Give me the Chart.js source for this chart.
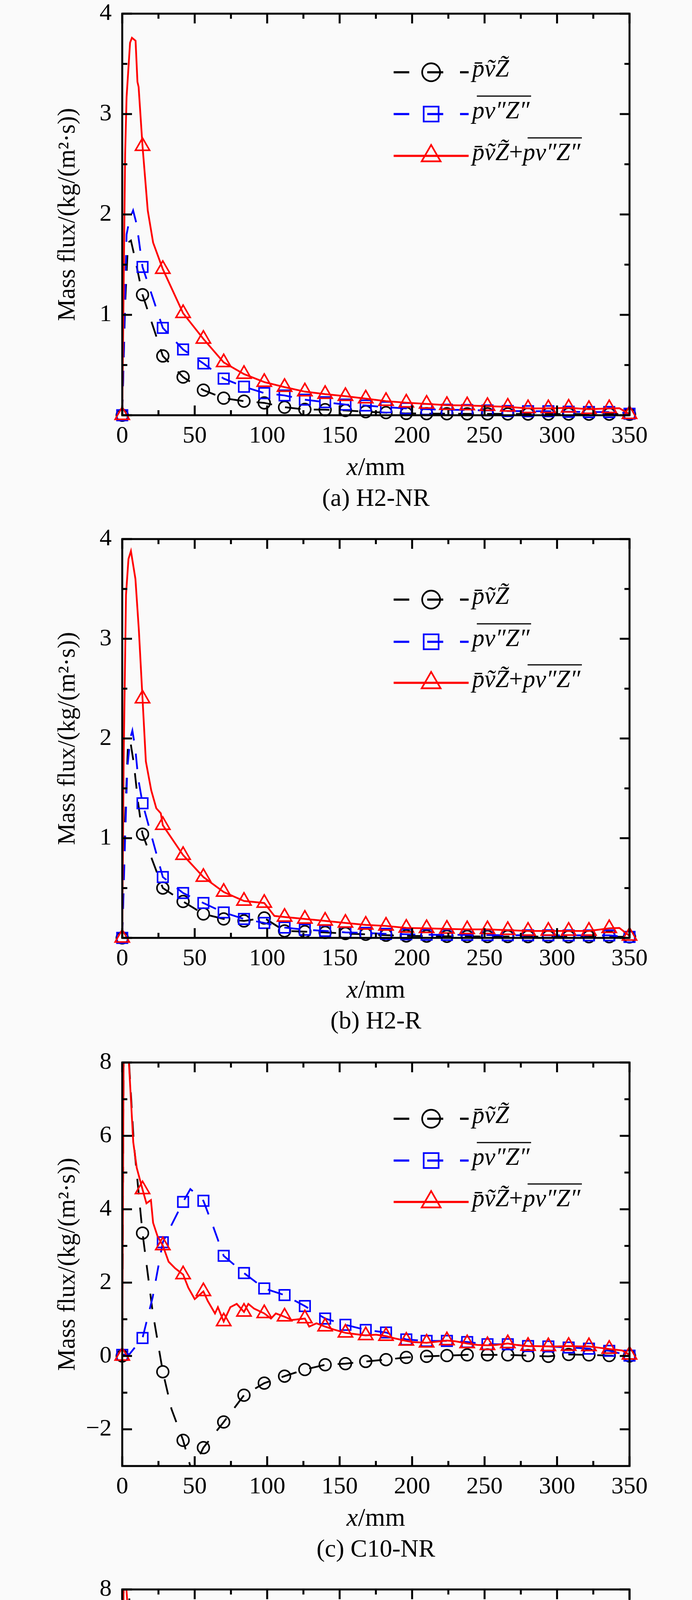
<!DOCTYPE html>
<html>
<head>
<meta charset="utf-8">
<script src="https://cdn.jsdelivr.net/npm/chart.js@4.4.1/dist/chart.umd.min.js"></script>
<style>
  body { margin: 0; background: #fafafa; }
  #wrap { position: relative; width: 1772px; height: 5352px; }
  #wrap canvas { position: absolute; left: 0; }
</style>
</head>
<body>
<div id="wrap">
  <canvas id="cA" width="1772" height="1318" style="top:0px"></canvas>
  <canvas id="cB" width="1772" height="1318" style="top:1345px"></canvas>
  <canvas id="cC" width="1772" height="1318" style="top:2685px"></canvas>
  <canvas id="cD" width="1772" height="1318" style="top:4034px"></canvas>
</div>
<script>
const FONT = '"Liberation Serif", "Times New Roman", serif';

// marker positions (mm) and axis ticks
const markX = [0, 14, 28, 42, 56, 70, 84, 98, 112, 126, 140, 154, 168, 182, 196, 210, 224, 238, 252, 266, 280, 294, 308, 322, 336, 350];
const xTicks = [0, 50, 100, 150, 200, 250, 300, 350];
const abYTicks = [0, 1, 2, 3, 4];
const cdYTicks = [-2, 0, 2, 4, 6, 8];

// (a) H2-NR
const aBlack = [0, 1.20, 0.59, 0.38, 0.25, 0.17, 0.14, 0.123, 0.08, 0.058, 0.055, 0.048, 0.035, 0.026, 0.018, 0.016, 0.015, 0.014, 0.014, 0.013, 0.012, 0.012, 0.012, 0.011, 0.011, 0.01];
const aBlue  = [0, 1.477, 0.87, 0.655, 0.516, 0.365, 0.284, 0.22, 0.197, 0.155, 0.13, 0.106, 0.097, 0.08, 0.068, 0.06, 0.055, 0.052, 0.048, 0.042, 0.04, 0.04, 0.035, 0.032, 0.032, 0.015];
const aRed   = [0, 2.68, 1.455, 1.016, 0.76, 0.526, 0.41, 0.33, 0.28, 0.235, 0.21, 0.19, 0.165, 0.14, 0.125, 0.113, 0.10, 0.097, 0.09, 0.084, 0.068, 0.068, 0.074, 0.06, 0.068, 0.01];
// extra line points between markers
const aBlackExX = [2, 4, 6, 9];
const aBlackExY = [1.1, 1.72, 1.74, 1.55];
const aBlueExX = [2, 3, 5, 7.5, 10, 343];
const aBlueExY = [1.2, 1.8, 1.95, 2.04, 1.9, 0.03];
const aRedExX = [2, 3, 5.4, 6.7, 9.2, 10.5, 11.3, 17.6, 21.3, 343];
const aRedExY = [2.6, 3.17, 3.71, 3.76, 3.73, 3.32, 3.27, 2.04, 1.72, 0.07];

// (b) H2-R
const bBlack = [0, 1.04, 0.50, 0.365, 0.24, 0.19, 0.17, 0.20, 0.07, 0.063, 0.055, 0.044, 0.036, 0.027, 0.02, 0.018, 0.016, 0.015, 0.014, 0.014, 0.013, 0.013, 0.012, 0.012, 0.012, 0.01];
const bBlue  = [0, 1.35, 0.61, 0.45, 0.35, 0.255, 0.19, 0.15, 0.104, 0.082, 0.07, 0.055, 0.05, 0.04, 0.036, 0.032, 0.03, 0.03, 0.028, 0.027, 0.026, 0.026, 0.025, 0.025, 0.025, 0.01];
const bRed   = [0, 2.40, 1.13, 0.83, 0.61, 0.46, 0.37, 0.35, 0.21, 0.19, 0.17, 0.15, 0.13, 0.12, 0.10, 0.096, 0.09, 0.085, 0.085, 0.077, 0.07, 0.07, 0.07, 0.07, 0.096, 0.02];
const bBlackExX = [2, 4, 5.5, 8, 11];
const bBlackExY = [1.2, 1.95, 1.98, 1.75, 1.35];
const bBlueExX = [2, 3.5, 5.5, 7, 9, 11];
const bBlueExY = [1.0, 1.7, 2.0, 2.08, 1.9, 1.6];
const bRedExX = [1, 2.6, 4.3, 6, 9.1, 11.5, 16.3, 20, 23.5, 26.6, 105, 343];
const bRedExY = [1.8, 3.44, 3.8, 3.88, 3.6, 3.08, 1.77, 1.48, 1.30, 1.25, 0.22, 0.1];

// (c) C10-NR
const cBlack = [0, 3.35, -0.43, -2.3, -2.5, -1.8, -1.07, -0.74, -0.55, -0.37, -0.24, -0.21, -0.15, -0.10, -0.04, -0.01, 0.01, 0.03, 0.03, 0.03, 0.01, -0.01, 0.04, 0.03, 0.01, 0];
const cBlue  = [0.03, 0.49, 3.1, 4.2, 4.23, 2.73, 2.26, 1.84, 1.66, 1.36, 1.02, 0.85, 0.71, 0.64, 0.45, 0.41, 0.41, 0.38, 0.32, 0.32, 0.27, 0.26, 0.23, 0.2, 0.14, 0.01];
const cRed   = [0, 4.54, 3.01, 2.22, 1.76, 0.94, 1.2, 1.16, 1.07, 1.02, 0.80, 0.63, 0.56, 0.54, 0.41, 0.36, 0.42, 0.34, 0.29, 0.34, 0.27, 0.26, 0.27, 0.26, 0.19, 0.03];
const cBlackExX = [1, 3, 5, 8, 21, 34, 48];
const cBlackExY = [8.6, 9.5, 7.8, 5.8, 1.2, -1.45, -3.15];
const cBlueExX = [5, 21, 47, 63];
const cBlueExY = [0.05, 1.6, 4.55, 3.5];
const cRedExX = [1, 3, 4.6, 7.6, 10, 16.7, 19.8, 21.3, 24.3, 32, 36.5, 45.6, 50, 59, 64, 66, 74.6, 79, 87, 91, 102.6, 106, 117, 129, 134, 146, 160, 175, 188, 200, 215, 230, 245, 258, 272, 285, 300, 315, 330, 345];
const cRedExY = [8.6, 9.2, 8.0, 5.83, 5.13, 4.16, 4.25, 3.63, 3.27, 2.57, 2.39, 1.86, 1.55, 1.5, 1.16, 1.33, 1.33, 1.42, 1.42, 1.29, 1.02, 1.16, 0.98, 0.8, 0.89, 0.72, 0.6, 0.58, 0.48, 0.38, 0.38, 0.4, 0.3, 0.3, 0.3, 0.27, 0.26, 0.26, 0.22, 0.15];

// (d) C10-R
const dBlack = [0, 4.04, 0.64, -0.75, -0.96, -1.38, -1.6, -1.68, -1.18, -1.0, -0.70, -0.52, -0.24, -0.19, -0.15, -0.06, -0.06, -0.06, -0.06, -0.04, 0.01, 0.01, 0, -0.02, 0, 0];
const dBlue  = [0, 0.49, 2.32, 2.95, 2.33, 2.17, 2.06, 1.93, 1.53, 1.01, 0.9, 0.71, 0.6, 0.49, 0.41, 0.37, 0.3, 0.28, 0.28, 0.3, 0.26, 0.26, 0.22, 0.22, 0.22, 0];
const dRed   = [0.05, 3.85, 2.58, 1.94, 1.42, 0.86, 0.49, 0.34, 0.43, 0.04, 0.22, 0.28, 0.37, 0.3, 0.34, 0.31, 0.26, 0.22, 0.28, 0.31, 0.35, 0.35, 0.28, 0.28, 0.28, 0.04];
const dBlackExX = [1, 3, 7, 10, 20, 24, 35];
const dBlackExY = [8.6, 9.4, 5.9, 5.2, 2.3, 1.5, -0.3];
const dBlueExX = [5, 21];
const dBlueExY = [0.1, 1.35];
const dRedExX = [1, 2.9, 6, 9.6, 12, 16.8, 19.2, 21.6, 25, 31, 34, 37, 45.5, 50, 60, 66, 74, 91, 105.5, 117.5, 132, 345];
const dRedExY = [8.8, 8.0, 6.28, 5.16, 4.33, 3.29, 2.95, 2.84, 2.77, 2.47, 2.09, 1.94, 1.79, 1.64, 0.97, 1.0, 0.52, 0.37, 0.41, 0.22, 0.11, 0.2];

const captions = ['(a) H2-NR', '(b) H2-R', '(c) C10-NR', '(d) C10-R'];

// merge markers and extra points into one line path
function lineOf(ys, exX, exY) {
  const pts = markX.map((x, i) => ({x: x, y: ys[i]}));
  exX.forEach((x, i) => pts.push({x: x, y: exY[i]}));
  return pts.sort((p, q) => p.x - q.x);
}
function marksOf(ys) {
  return markX.map((x, i) => ({x: x, y: ys[i]}));
}
function mids(list) {
  const out = [];
  for (let i = 1; i < list.length; i++) out.push((list[i - 1] + list[i]) / 2);
  return out;
}

function legendMarker(ctx, style, r, x, y) {
  ctx.beginPath();
  if (style === 'circle') {
    ctx.arc(x, y, r, 0, Math.PI * 2);
  } else if (style === 'rect') {
    const s = r * Math.SQRT1_2;
    ctx.rect(x - s, y - s, 2 * s, 2 * s);
  } else {
    ctx.moveTo(x, y - r);
    ctx.lineTo(x + r * 0.866, y + r * 0.5);
    ctx.lineTo(x - r * 0.866, y + r * 0.5);
    ctx.closePath();
  }
  ctx.stroke();
}

const legendItems = [
  {color: '#000000', style: 'circle', r: 23, dashed: true,
   parts: [{t: 'p\u0304v\u0303Z\u0303', it: true}]},
  {color: '#0000ff', style: 'rect', r: 27, dashed: true,
   parts: [{t: 'pv\u2033Z\u2033', it: true, over: true}]},
  {color: '#ff0000', style: 'triangle', r: 28, dashed: false,
   parts: [{t: 'p\u0304v\u0303Z\u0303', it: true}, {t: '+', it: false}, {t: 'pv\u2033Z\u2033', it: true, over: true}]}
];

const deco = {
  id: 'deco',
  afterDraw(chart, args, o) {
    const {ctx, chartArea: a, scales: {x, y}} = chart;
    ctx.save();
    ctx.strokeStyle = '#000';
    ctx.lineWidth = 5;
    ctx.beginPath();
    const majX = xTicks, minX = mids(xTicks);
    const majY = o.yTicks, minY = mids(o.yTicks);
    majX.forEach(v => {
      const p = x.getPixelForValue(v);
      ctx.moveTo(p, a.bottom); ctx.lineTo(p, a.bottom - 25);
      ctx.moveTo(p, a.top); ctx.lineTo(p, a.top + 25);
    });
    minX.forEach(v => {
      const p = x.getPixelForValue(v);
      ctx.moveTo(p, a.bottom); ctx.lineTo(p, a.bottom - 13);
      ctx.moveTo(p, a.top); ctx.lineTo(p, a.top + 13);
    });
    majY.forEach(v => {
      const p = y.getPixelForValue(v);
      ctx.moveTo(a.left, p); ctx.lineTo(a.left + 25, p);
      ctx.moveTo(a.right, p); ctx.lineTo(a.right - 25, p);
    });
    minY.forEach(v => {
      const p = y.getPixelForValue(v);
      ctx.moveTo(a.left, p); ctx.lineTo(a.left + 13, p);
      ctx.moveTo(a.right, p); ctx.lineTo(a.right - 13, p);
    });
    ctx.stroke();
    ctx.strokeRect(a.left, a.top, a.right - a.left, a.bottom - a.top);

    // x title and caption
    ctx.fillStyle = '#000';
    ctx.textBaseline = 'alphabetic';
    ctx.textAlign = 'left';
    const cx = (a.left + a.right) / 2;
    ctx.font = 'italic 66px ' + FONT;
    const wx = ctx.measureText('x').width;
    ctx.font = '66px ' + FONT;
    const wm = ctx.measureText('/mm').width;
    const sx = cx - (wx + wm) / 2;
    ctx.font = 'italic 66px ' + FONT;
    ctx.fillText('x', sx, a.bottom + 153);
    ctx.font = '66px ' + FONT;
    ctx.fillText('/mm', sx + wx, a.bottom + 153);
    ctx.textAlign = 'center';
    ctx.font = '64px ' + FONT;
    ctx.fillText(o.caption, cx, a.bottom + 232);

    // legend
    const lx0 = 1008, mx = 1104, tx = 1209;
    ctx.textAlign = 'left';
    legendItems.forEach((s, i) => {
      const ry = a.top + o.rows[i];
      ctx.strokeStyle = s.color;
      ctx.lineWidth = 5.5;
      ctx.beginPath();
      const segs = s.dashed ? [[0, 40], [86, 127], [170, 192]] : [[0, 192]];
      segs.forEach(sg => { ctx.moveTo(lx0 + sg[0], ry); ctx.lineTo(lx0 + sg[1], ry); });
      ctx.stroke();
      ctx.lineWidth = 4.3;
      legendMarker(ctx, s.style, s.r, mx, ry);
      let px = tx;
      s.parts.forEach(pt => {
        ctx.font = (pt.it ? 'italic ' : '') + '63px ' + FONT;
        const w = ctx.measureText(pt.t).width;
        ctx.fillStyle = '#000';
        ctx.fillText(pt.t, px, ry + 11);
        if (pt.over) {
          ctx.strokeStyle = '#000';
          ctx.lineWidth = 3;
          ctx.beginPath();
          ctx.moveTo(px + 12, ry - 46);
          ctx.lineTo(px + w + 4, ry - 46);
          ctx.stroke();
        }
        px += w;
      });
    });
    ctx.restore();
  }
};

function makePanel(id, idx, series, yMin, yMax, yTicks, hideZero, plotH, mk, rows) {
  const [blk, blu, red] = series;
  const lineBase = {type: 'line', pointRadius: 0, pointHoverRadius: 0, borderWidth: 4.5, tension: 0, fill: false};
  const markBase = {type: 'line', showLine: false, backgroundColor: 'rgba(0,0,0,0)', pointBorderWidth: 4, pointHoverRadius: 0, clip: false};
  const datasets = [
    Object.assign({}, lineBase, {data: lineOf(blk[0], blk[1], blk[2]), borderColor: '#000000', borderDash: [40, 34], order: 6}),
    Object.assign({}, markBase, {data: marksOf(blk[0]), borderColor: '#000000', pointStyle: 'circle', pointRadius: mk[0], order: 5}),
    Object.assign({}, lineBase, {data: lineOf(blu[0], blu[1], blu[2]), borderColor: '#0000ff', borderDash: [40, 34], order: 4}),
    Object.assign({}, markBase, {data: marksOf(blu[0]), borderColor: '#0000ff', pointStyle: 'rect', pointRadius: mk[1], order: 3}),
    Object.assign({}, lineBase, {data: lineOf(red[0], red[1], red[2]), borderColor: '#ff0000', order: 2}),
    Object.assign({}, markBase, {data: marksOf(red[0]), borderColor: '#ff0000', pointStyle: 'triangle', pointRadius: mk[2], order: 1})
  ];
  // small lineHeight on y labels keeps Chart.js from pushing the plot top down
  const xFont = {family: FONT, size: 62, lineHeight: 1};
  const yFont = {family: FONT, size: 62, lineHeight: 0.2};
  return new Chart(document.getElementById(id), {
    type: 'line',
    data: {datasets: datasets},
    options: {
      responsive: false,
      animation: false,
      devicePixelRatio: 1,
      events: [],
      layout: {padding: {left: 0, right: 160, top: 35, bottom: 0}},
      plugins: {
        legend: {display: false},
        tooltip: {enabled: false},
        deco: {caption: captions[idx], yTicks: yTicks, rows: rows}
      },
      scales: {
        x: {
          type: 'linear', min: 0, max: 350,
          afterBuildTicks: s => { s.ticks = xTicks.map(v => ({value: v})); },
          afterFit: s => { s.height = 1318 - 35 - plotH; },
          grid: {display: false, drawTicks: false},
          border: {display: false},
          ticks: {font: xFont, color: '#000', padding: 23, maxRotation: 0, autoSkip: false,
                  callback: v => String(v)}
        },
        y: {
          type: 'linear', min: yMin, max: yMax,
          afterBuildTicks: s => { s.ticks = yTicks.map(v => ({value: v})); },
          afterFit: s => { s.width = 313; },
          grid: {display: false, drawTicks: false},
          border: {display: false},
          ticks: {font: yFont, color: '#000', padding: 27, autoSkip: false,
                  callback: v => (hideZero && v === 0) ? '' : (v < 0 ? '\u2212' + Math.abs(v) : String(v))},
          title: {display: true, text: 'Mass flux/(kg/(m\u00B2\u00B7s))', color: '#000',
                  font: {family: FONT, size: 63}, padding: {top: 137, bottom: 0}}
        }
      }
    },
    plugins: [deco]
  });
}

const smallMk = [15, 19, 21];
const bigMk = [18, 28, 28];
makePanel('cA', 0, [[aBlack, aBlackExX, aBlackExY], [aBlue, aBlueExX, aBlueExY], [aRed, aRedExX, aRedExY]],
  0, 4, abYTicks, true, 1028, smallMk, [150, 257, 364]);
makePanel('cB', 1, [[bBlack, bBlackExX, bBlackExY], [bBlue, bBlueExX, bBlueExY], [bRed, bRedExX, bRedExY]],
  0, 4, abYTicks, true, 1021, smallMk, [155, 263, 368]);
makePanel('cC', 2, [[cBlack, cBlackExX, cBlackExY], [cBlue, cBlueExX, cBlueExY], [cRed, cRedExX, cRedExY]],
  -3, 8, cdYTicks, false, 1033, smallMk, [144, 251, 357]);
makePanel('cD', 3, [[dBlack, dBlackExX, dBlackExY], [dBlue, dBlueExX, dBlueExY], [dRed, dRedExX, dRedExY]],
  -3, 8, cdYTicks, false, 1031, bigMk, [152, 260, 365]);
</script>
</body>
</html>
